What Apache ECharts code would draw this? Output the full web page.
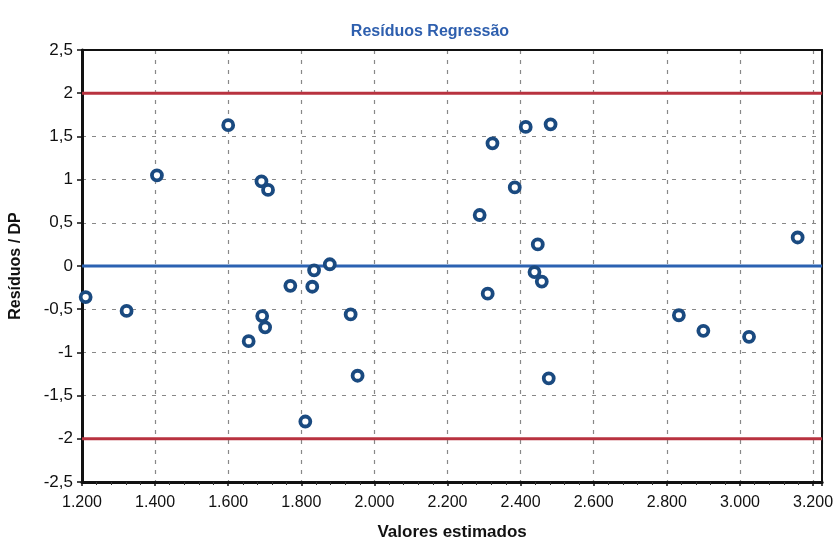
<!DOCTYPE html>
<html>
<head>
<meta charset="utf-8">
<script src="https://cdn.jsdelivr.net/npm/echarts@6/dist/echarts.min.js"></script>
<style>html,body{margin:0;padding:0;background:#fff;}#c{width:836px;height:555px;}</style>
</head>
<body>
<div id="c"></div>
<script>
// Estimated values (x) and standardized residuals (y)
const xValues = [1210, 1322, 1405, 1600, 1691, 1709, 1656, 1693, 1701, 1770, 1835, 1830, 1878, 1811, 1935, 1954,
                 2288, 2310, 2323, 2384, 2414, 2482, 2447, 2438, 2458, 2477, 2833, 2900, 3025, 3158];
const yValues = [-0.36, -0.52, 1.05, 1.63, 0.98, 0.88, -0.87, -0.58, -0.71, -0.23, -0.05, -0.24, 0.02, -1.8, -0.56, -1.27,
                 0.59, -0.32, 1.42, 0.91, 1.61, 1.64, 0.25, -0.07, -0.18, -1.3, -0.57, -0.75, -0.82, 0.33];
const xRange = [1200, 3225];
const limitUpper = 2;
const limitLower = -2;
const zeroLine = 0;

const points = xValues.map((x, i) => [x, yValues[i]]);
const fmtX = v => String(v).replace(/\B(?=(\d{3})+(?!\d))/g, '.');
const fmtY = v => String(v).replace('.', ',');
const FONT = 'Liberation Sans, Arial';

const chart = echarts.init(document.getElementById('c'), null, {renderer: 'canvas'});
chart.setOption({
  animation: false,
  backgroundColor: '#fff',
  title: {
    text: 'Resíduos Regressão',
    left: 425, top: 19, textAlign: 'center',
    textStyle: {fontFamily: FONT, fontSize: 16, fontWeight: 'bold', color: '#2e5fae'}
  },
  grid: {left: 80, right: 10, top: 50, bottom: 73},
  xAxis: [{
    type: 'value', min: xRange[0], max: xRange[1], interval: 200,
    name: 'Valores estimados', nameLocation: 'middle', nameGap: 42,
    nameTextStyle: {fontFamily: FONT, fontSize: 17, fontWeight: 'bold', color: '#111'},
    axisLine: {show: true, onZero: false, lineStyle: {color: '#111', width: 3}},
    axisTick: {show: true, length: 4, lineStyle: {color: '#111', width: 1.5}},
    minorTick: {show: true, splitNumber: 5, length: 3, lineStyle: {color: '#333'}},
    axisLabel: {showMaxLabel: false, formatter: fmtX, fontFamily: FONT, fontSize: 16, color: '#111', margin: 13},
    splitLine: {show: true, lineStyle: {color: '#888', type: [4, 6], width: 1.2}}
  }, {
    type: 'value', position: 'top', min: xRange[0], max: xRange[1],
    axisLine: {show: true, onZero: false, lineStyle: {color: '#111', width: 2}},
    axisTick: {show: false}, axisLabel: {show: false}, splitLine: {show: false}
  }],
  yAxis: [{
    type: 'value', min: -2.5, max: 2.5, interval: 0.5,
    name: 'Resíduos / DP', nameLocation: 'middle', nameGap: 58, nameRotate: 90,
    nameTextStyle: {fontFamily: FONT, fontSize: 16, fontWeight: 'bold', color: '#111'},
    axisLine: {show: true, onZero: false, lineStyle: {color: '#111', width: 3}},
    axisTick: {show: true, length: 5, lineStyle: {color: '#111', width: 1.5}},
    axisLabel: {formatter: fmtY, fontFamily: FONT, fontSize: 17, color: '#111', margin: 9},
    splitLine: {show: true, lineStyle: {color: '#888', type: [4, 6], width: 1.2}}
  }, {
    type: 'value', position: 'right', min: -2.5, max: 2.5,
    axisLine: {show: true, onZero: false, lineStyle: {color: '#111', width: 2}},
    axisTick: {show: false}, axisLabel: {show: false}, splitLine: {show: false}
  }],
  series: [
    {
      type: 'line', data: [[xRange[0], limitUpper], [xRange[1], limitUpper]], symbol: 'none',
      lineStyle: {color: '#b8323f', width: 3}, silent: true, z: 2
    },
    {
      type: 'line', data: [[xRange[0], limitLower], [xRange[1], limitLower]], symbol: 'none',
      lineStyle: {color: '#b8323f', width: 3}, silent: true, z: 2
    },
    {
      type: 'line', data: [[xRange[0], zeroLine], [xRange[1], zeroLine]], symbol: 'none',
      lineStyle: {color: '#2b62b2', width: 3}, silent: true, z: 2
    },
    {
      type: 'scatter', data: points, symbol: 'circle', symbolSize: 10,
      itemStyle: {color: '#ffffff', borderColor: '#1a4a80', borderWidth: 3.8, opacity: 1}, z: 5
    }
  ]
});
</script>
</body>
</html>
